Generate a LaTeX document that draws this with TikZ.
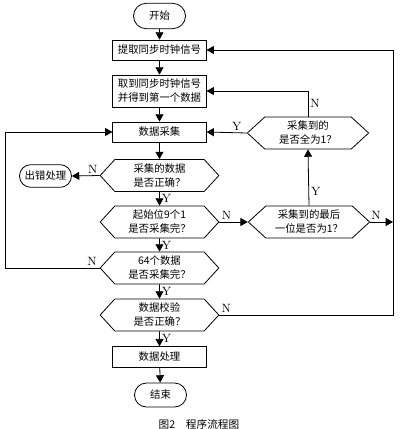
\documentclass[tikz,border=0pt]{standalone}
\usepackage{fontspec}
\newfontfamily\cjk{Noto Sans CJK SC}
\usepackage{tikz}
\usetikzlibrary{arrows.meta,positioning,shapes.misc,shapes.symbols}

\begin{document}
\begin{tikzpicture}[x=0.75pt,y=-0.75pt,line width=0.6pt,
	term/.style={rounded rectangle,minimum width=41pt,minimum height=19pt},
	proc/.style={rectangle,minimum width=70pt,minimum height=15pt},
	decide/.style={signal,signal to=east and west,signal pointer angle=95,minimum width=89pt,minimum height=24pt},
	arr/.style={-{Triangle[length=5.5pt,width=6pt]}},
	lbl/.style={font=\fontsize{9}{9}\selectfont,inner sep=1.5pt}]
	\useasboundingbox (0,0) rectangle (400,429);
	\begin{scope}[every node/.style={draw,align=center,inner sep=1pt,font=\cjk\fontsize{7.8}{10.5}\selectfont}]
		\node[term] (Begin) at (159.5,16) {开始};
		\node[proc] (Sync) at (159.5,50) {提取同步时钟信号};
		\node[proc,minimum height=24pt] (First) at (159.5,91) {取到同步时钟信号\\并得到第一个数据};
		\node[proc] (Collect) at (159.5,132) {数据采集};
		\node[decide] (CheckData) at (159.5,175.5) {采集的数据\\是否正确？};
		\node[term,minimum height=17pt] (Error) at (45.5,176) {出错处理};
		\node[decide] (StartBits) at (159.5,222) {起始位9个1\\是否采集完？};
		\node[decide] (Count) at (159.5,268) {64个数据\\是否采集完？};
		\node[decide] (Verify) at (159.5,315) {数据校验\\是否正确？};
		\node[proc,minimum height=15.5pt] (Process) at (159.5,357) {数据处理};
		\node[term,minimum height=18pt] (Finish) at (160.5,395) {结束};
		\node[decide,minimum width=91pt,signal pointer angle=85] (AllOnes) at (308,133) {采集到的\\是否全为1？};
		\node[decide,minimum width=91pt,signal pointer angle=85] (LastBit) at (309,222) {采集到的最后\\一位是否为1？};
	\end{scope}

	\coordinate (RightRail) at (393,0);
	\coordinate (LeftRail) at (5,0);
	\node[font=\cjk\fontsize{8}{10}\selectfont] (Caption) at (199,424) {图2\quad 程序流程图};

	\begin{scope}[every node/.style={lbl}]
	\draw[arr] (Begin) -- (Sync);
	\draw[arr] (Sync) -- (First);
	\draw[arr] (First) -- (Collect);
	\draw[arr] (Collect) -- (CheckData);
	\draw[arr] (CheckData.west) -- node[near start,above]{N} (Error.east);
	\draw[arr] (CheckData) -- node[right]{Y} (StartBits);
	\draw[arr] (StartBits) -- node[right]{Y} (Count);
	\draw[arr] (Count) -- node[right]{Y} (Verify);
	\draw[arr] (Verify) -- node[right]{Y} (Process);
	\draw[arr] (Process) -- (Finish);
	\draw[arr] (StartBits.east) -- node[near start,above]{N} (LastBit.west);
	\draw[arr] (LastBit.north) -- node[near start,right]{Y} (AllOnes.south);
	\draw[arr] (AllOnes.north) |- node[pos=0.25,right]{N} (First.east);
	\draw[arr] (AllOnes.west) -- node[near start,above]{Y} (Collect.east);
	\draw[arr] (LastBit.east) -- node[near start,above]{N} (LastBit.east -| RightRail);
	\draw[arr] (Verify.east) -- node[pos=0.04,above]{N} (Verify.east -| RightRail) |- (Sync.east);
	\draw[arr] (Count.west) -- node[pos=0.08,above]{N} (Count.west -| LeftRail) |- (Collect.west);
	\end{scope}
\end{tikzpicture}
\end{document}
